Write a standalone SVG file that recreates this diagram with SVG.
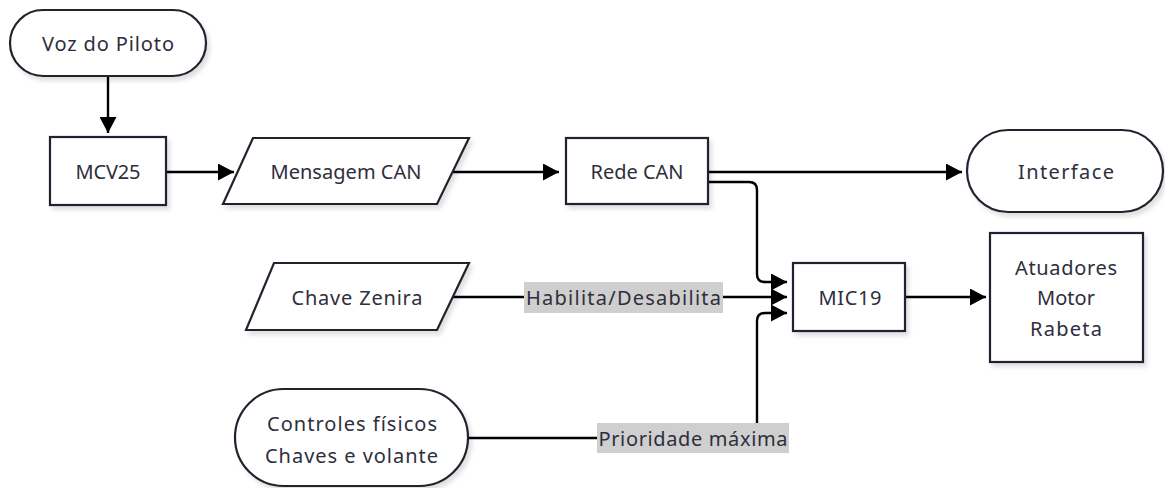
<svg xmlns="http://www.w3.org/2000/svg" width="1165" height="488" viewBox="0 0 1165 488">
  <style>
    .shape { fill: #ffffff; stroke: #23232f; stroke-width: 2.2; filter: url(#sh); }
    .txt { font-family: "Noto Sans", "Open Sans", sans-serif; font-size: 20px; fill: #2e2e3c; text-anchor: middle; dominant-baseline: central; }
    .edge { fill: none; stroke: #000000; stroke-width: 2.4; }
    .arrow { marker-end: url(#ah); }
    .lblbg { fill: #cfcfcf; }
    .lbl { font-family: "Noto Sans", "Open Sans", sans-serif; font-size: 20px; fill: #2e2e3c; text-anchor: middle; dominant-baseline: central; }
  </style>
  <defs>
    <filter id="sh" x="-10%" y="-10%" width="130%" height="140%">
      <feDropShadow dx="3" dy="4" stdDeviation="2" flood-color="#000000" flood-opacity="0.12"/>
    </filter>
    <marker id="ah" markerUnits="userSpaceOnUse" markerWidth="16" markerHeight="17" viewBox="0 0 16 17" refX="16" refY="8.5" orient="auto">
      <path d="M0,0 L16,8.5 L0,17 z" fill="#000000"/>
    </marker>
  </defs>

  <rect width="1165" height="488" fill="#ffffff"/>

  <g id="connectors">
    <path class="edge arrow" d="M108,76 L108,133"/>
    <path class="edge arrow" d="M166,172 L234,172"/>
    <path class="edge arrow" d="M453,172 L559,172"/>
    <path class="edge arrow" d="M708,172 L962,172"/>
    <path class="edge arrow" d="M708,182 L749,182 Q757,182 757,190 L757,274 Q757,282 765,282 L787,282"/>
    <path class="edge arrow" d="M453,297 L787,297"/>
    <path class="edge arrow" d="M468,438 L749,438 Q757,438 757,430 L757,321 Q757,313 765,313 L787,313"/>
    <path class="edge arrow" d="M905,297 L986,297"/>
    <g id="label-habilita">
      <rect class="lblbg" x="524" y="282" width="199" height="31"/>
      <text class="lbl" x="623.5" y="297" textLength="195">Habilita/Desabilita</text>
    </g>
    <g id="label-prioridade">
      <rect class="lblbg" x="597" y="423" width="192" height="30"/>
      <text class="lbl" x="693" y="438" textLength="189">Prioridade máxima</text>
    </g>
  </g>

  <g id="voz">
    <rect class="shape" x="10" y="10" width="196" height="66" rx="33" ry="33"/>
    <text class="txt" x="108" y="43" textLength="132">Voz do Piloto</text>
  </g>
  <g id="mcv25">
    <rect class="shape" x="50" y="137" width="116" height="68"/>
    <text class="txt" x="108" y="171" textLength="65">MCV25</text>
  </g>
  <g id="mensagem">
    <polygon class="shape" points="253,138 469,138 437,204 223,204"/>
    <text class="txt" x="346" y="171" textLength="151">Mensagem CAN</text>
  </g>
  <g id="redecan">
    <rect class="shape" x="566" y="138" width="142" height="66"/>
    <text class="txt" x="637" y="171" textLength="93">Rede CAN</text>
  </g>
  <g id="interface">
    <rect class="shape" x="967" y="130" width="196" height="82" rx="41" ry="41"/>
    <text class="txt" x="1066" y="171" textLength="96">Interface</text>
  </g>
  <g id="chave">
    <polygon class="shape" points="274,263 469,263 437,330 246,330"/>
    <text class="txt" x="357" y="297" textLength="131">Chave Zenira</text>
  </g>
  <g id="mic19">
    <rect class="shape" x="793" y="263" width="112" height="68"/>
    <text class="txt" x="850" y="297" textLength="63">MIC19</text>
  </g>
  <g id="atuadores">
    <rect class="shape" x="990" y="233" width="153" height="129"/>
    <text class="txt" x="1066" y="267" textLength="102">Atuadores</text>
    <text class="txt" x="1066" y="297" textLength="58">Motor</text>
    <text class="txt" x="1066" y="328" textLength="72">Rabeta</text>
  </g>
  <g id="controles">
    <rect class="shape" x="235" y="389" width="233" height="97" rx="48.5" ry="48.5"/>
    <text class="txt" x="352" y="423" textLength="170">Controles físicos</text>
    <text class="txt" x="351.5" y="455" textLength="173">Chaves e volante</text>
  </g>
</svg>
